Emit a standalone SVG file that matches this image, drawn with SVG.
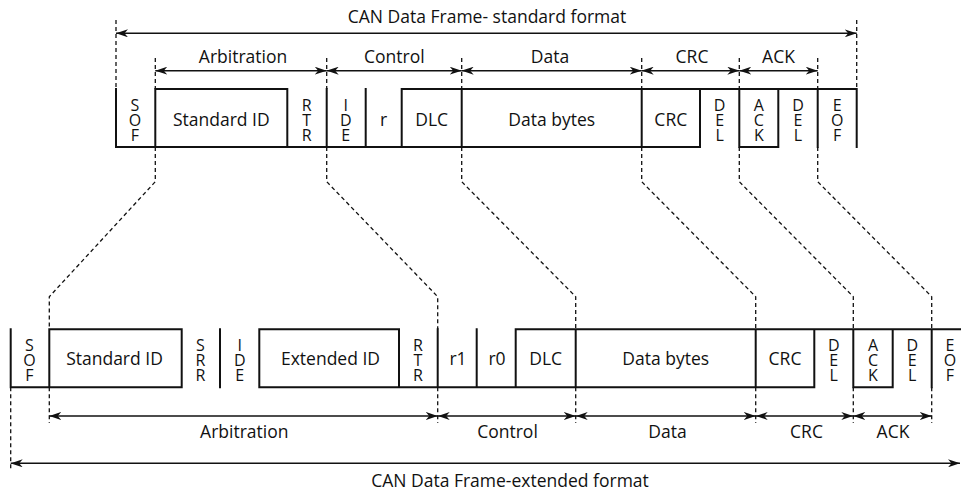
<svg xmlns="http://www.w3.org/2000/svg" width="961" height="493" viewBox="0 0 961 493">
<style>
text{font-family:"Open Sans","Noto Sans","DejaVu Sans",sans-serif;font-size:17.5px;fill:#111;text-anchor:middle}
text.v{font-size:16px}
.frame{fill:none;stroke:#111;stroke-width:2;stroke-linecap:square}
.dash{fill:none;stroke:#111;stroke-width:1.3;stroke-dasharray:4 3}
.arr{fill:none;stroke:#111;stroke-width:1.6;marker-start:url(#ah);marker-end:url(#ah)}
</style>
<defs>
<marker id="ah" viewBox="0 0 12 8" refX="12" refY="4" markerWidth="12" markerHeight="8" markerUnits="userSpaceOnUse" orient="auto-start-reverse">
<path d="M0,0 L12,4 L0,8 L3.5,4 Z" fill="#111"/>
</marker>
</defs>

<!-- Standard frame -->
<g id="frame-standard">
<path class="frame" d="M116,89 V147 H700 M739.3,147 H778.3 M155.3,89 H287.3 M401.7,89 H856.7 M155.3,89 V147 M287.3,89 V147 M326.7,89 V147 M365.7,89 V147 M401.7,89 V147 M461.7,89 V147 M641.7,89 V147 M700,89 V147 M739.3,89 V147 M778.3,89 V147 M817.7,89 V147 M856.7,89 V147"/>
</g>
<g id="std-title"><text x="487" y="23">CAN Data Frame- standard format</text></g>
<g id="std-sof"><text class="v"><tspan x="135" y="111">S</tspan><tspan x="135" y="126">O</tspan><tspan x="135" y="141">F</tspan></text></g>
<g id="std-id"><text x="221.3" y="126">Standard ID</text></g>
<g id="std-rtr"><text class="v"><tspan x="306.7" y="111">R</tspan><tspan x="306.7" y="126">T</tspan><tspan x="306.7" y="141">R</tspan></text></g>
<g id="std-ide"><text class="v"><tspan x="345.7" y="111">I</tspan><tspan x="345.7" y="126">D</tspan><tspan x="345.7" y="141">E</tspan></text></g>
<g id="std-r"><text x="383.5" y="126">r</text></g>
<g id="std-dlc"><text x="431.7" y="126">DLC</text></g>
<g id="std-data"><text x="551.7" y="126">Data bytes</text></g>
<g id="std-crc"><text x="670.8" y="126">CRC</text></g>
<g id="std-crcdel"><text class="v"><tspan x="719.6" y="111">D</tspan><tspan x="719.6" y="126">E</tspan><tspan x="719.6" y="141">L</tspan></text></g>
<g id="std-ack"><text class="v"><tspan x="758.8" y="111">A</tspan><tspan x="758.8" y="126">C</tspan><tspan x="758.8" y="141">K</tspan></text></g>
<g id="std-ackdel"><text class="v"><tspan x="798" y="111">D</tspan><tspan x="798" y="126">E</tspan><tspan x="798" y="141">L</tspan></text></g>
<g id="std-eof"><text class="v"><tspan x="837.2" y="111">E</tspan><tspan x="837.2" y="126">O</tspan><tspan x="837.2" y="141">F</tspan></text></g>
<g id="std-labels">
<text x="243" y="63.3">Arbitration</text>
<text x="394.3" y="63.3">Control</text>
<text x="550" y="63.3">Data</text>
<text x="692" y="63.3">CRC</text>
<text x="778.5" y="63.3">ACK</text>
</g>

<!-- Extended frame -->
<g id="frame-extended">
<path class="frame" d="M10.7,329.3 V387.3 H181.7 M259.3,387.3 H814.3 M853.3,387.3 H892.7 M49.3,329.3 H181.7 M259.3,329.3 H399 M515.7,329.3 H962 M49.3,329.3 V387.3 M181.7,329.3 V387.3 M220,329.3 V387.3 M259.3,329.3 V387.3 M399,329.3 V387.3 M437.7,329.3 V387.3 M476.7,329.3 V387.3 M515.7,329.3 V387.3 M575.7,329.3 V387.3 M755.7,329.3 V387.3 M814.3,329.3 V387.3 M853.3,329.3 V387.3 M892.7,329.3 V387.3 M931.7,329.3 V387.3"/>
</g>
<g id="ext-title"><text x="510" y="486.5">CAN Data Frame-extended format</text></g>
<g id="ext-sof"><text class="v"><tspan x="29.5" y="350.5">S</tspan><tspan x="29.5" y="365.5">O</tspan><tspan x="29.5" y="380.5">F</tspan></text></g>
<g id="ext-stdid"><text x="114.5" y="365">Standard ID</text></g>
<g id="ext-srr"><text class="v"><tspan x="200.5" y="350.5">S</tspan><tspan x="200.5" y="365.5">R</tspan><tspan x="200.5" y="380.5">R</tspan></text></g>
<g id="ext-ide"><text class="v"><tspan x="239.8" y="350.5">I</tspan><tspan x="239.8" y="365.5">D</tspan><tspan x="239.8" y="380.5">E</tspan></text></g>
<g id="ext-extid"><text x="330.5" y="365">Extended ID</text></g>
<g id="ext-rtr"><text class="v"><tspan x="418" y="350.5">R</tspan><tspan x="418" y="365.5">T</tspan><tspan x="418" y="380.5">R</tspan></text></g>
<g id="ext-r1"><text x="458" y="365">r1</text></g>
<g id="ext-r0"><text x="497" y="365">r0</text></g>
<g id="ext-dlc"><text x="545.7" y="365">DLC</text></g>
<g id="ext-data"><text x="665.7" y="365">Data bytes</text></g>
<g id="ext-crc"><text x="785" y="365">CRC</text></g>
<g id="ext-crcdel"><text class="v"><tspan x="833.8" y="350.5">D</tspan><tspan x="833.8" y="365.5">E</tspan><tspan x="833.8" y="380.5">L</tspan></text></g>
<g id="ext-ack"><text class="v"><tspan x="873" y="350.5">A</tspan><tspan x="873" y="365.5">C</tspan><tspan x="873" y="380.5">K</tspan></text></g>
<g id="ext-ackdel"><text class="v"><tspan x="912.2" y="350.5">D</tspan><tspan x="912.2" y="365.5">E</tspan><tspan x="912.2" y="380.5">L</tspan></text></g>
<g id="ext-eof"><text class="v"><tspan x="950" y="350.5">E</tspan><tspan x="950" y="365.5">O</tspan><tspan x="950" y="380.5">F</tspan></text></g>
<g id="ext-labels">
<text x="244.3" y="438.3">Arbitration</text>
<text x="507.5" y="438.3">Control</text>
<text x="667.5" y="438.3">Data</text>
<text x="806.5" y="438.3">CRC</text>
<text x="893" y="438.3">ACK</text>
</g>

<!-- Connectors -->
<g id="connectors">
<path class="dash" d="M116,20 V89 M856.7,20 V89 M155.3,58 V89 M326.7,58 V89 M461.7,58 V89 M641.7,58 V89 M739.3,58 V89 M817.7,58 V89"/>
<path class="dash" d="M155.3,147 V181.7 L49.3,296.7 V329.3"/>
<path class="dash" d="M326.7,147 V181.7 L437.7,296.7 V329.3"/>
<path class="dash" d="M461.7,147 V181.7 L575.7,296.7 V329.3"/>
<path class="dash" d="M641.7,147 V181.7 L755.7,296.7 V329.3"/>
<path class="dash" d="M739.3,147 V181.7 L853.3,296.7 V329.3"/>
<path class="dash" d="M817.7,147 V181.7 L931.7,296.7 V329.3"/>
<path class="dash" d="M10.7,387.3 V470 M49.3,387.3 V423 M437.7,387.3 V423 M575.7,387.3 V423 M755.7,387.3 V423 M853.3,387.3 V423 M931.7,387.3 V423"/>
<line class="arr" x1="116" y1="33.3" x2="856.7" y2="33.3"/>
<line class="arr" x1="155.3" y1="70.7" x2="326.7" y2="70.7"/>
<line class="arr" x1="326.7" y1="70.7" x2="461.7" y2="70.7"/>
<line class="arr" x1="461.7" y1="70.7" x2="641.7" y2="70.7"/>
<line class="arr" x1="641.7" y1="70.7" x2="739.3" y2="70.7"/>
<line class="arr" x1="739.3" y1="70.7" x2="817.7" y2="70.7"/>
<line class="arr" x1="49.3" y1="416" x2="437.7" y2="416"/>
<line class="arr" x1="437.7" y1="416" x2="575.7" y2="416"/>
<line class="arr" x1="575.7" y1="416" x2="755.7" y2="416"/>
<line class="arr" x1="755.7" y1="416" x2="853.3" y2="416"/>
<line class="arr" x1="853.3" y1="416" x2="931.7" y2="416"/>
<line class="arr" x1="10.7" y1="463.3" x2="960" y2="463.3"/>
</g>
</svg>
